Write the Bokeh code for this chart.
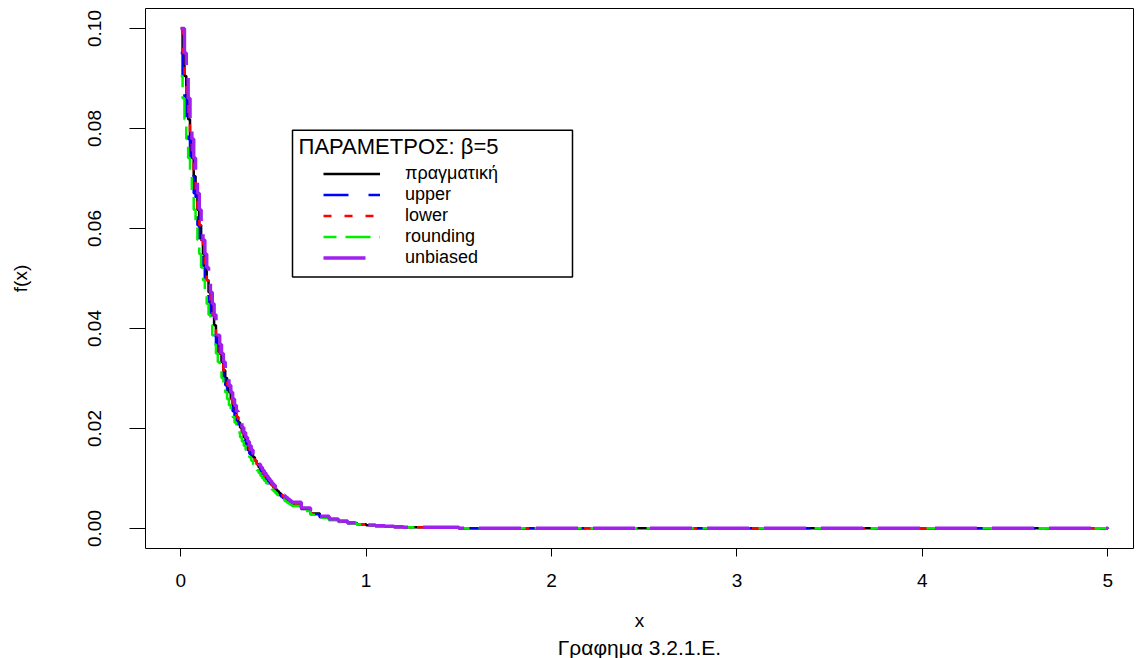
from bokeh.plotting import figure
from bokeh.models import (Range1d, FixedTicker, PrintfTickFormatter, Legend,
                          LegendItem, BoxAnnotation, Label, Title)
from bokeh.embed import file_html
from bokeh.resources import INLINE

# ---- data: discretised exponential pmf, beta = 5 ----
x_grid = [0.00, 0.01, 0.02, 0.03, 0.04, 0.05, 0.06, 0.07, 0.08, 0.09,
          0.10, 0.11, 0.12, 0.13, 0.14, 0.15, 0.16, 0.17, 0.18, 0.19,
          0.20, 0.21, 0.22, 0.23, 0.24, 0.25, 0.26, 0.27, 0.28, 0.29,
          0.30, 0.31, 0.32, 0.33, 0.34, 0.35, 0.36, 0.37, 0.38, 0.39,
          0.40, 0.41, 0.42, 0.43, 0.44, 0.45, 0.46, 0.47, 0.48, 0.49,
          0.50, 0.51, 0.52, 0.53, 0.54, 0.55, 0.56, 0.57, 0.58, 0.59,
          0.60,
          0.65, 0.70, 0.75, 0.80, 0.85, 0.90, 0.95, 1.00, 1.05, 1.10,
          1.15, 1.20, 1.50, 5.00]

f_true = [0.10000, 0.09512, 0.09048, 0.08607, 0.08187, 0.07788, 0.07408, 0.07047, 0.06703, 0.06376,
          0.06065, 0.05769, 0.05488, 0.05220, 0.04966, 0.04724, 0.04493, 0.04274, 0.04066, 0.03867,
          0.03679, 0.03499, 0.03329, 0.03166, 0.03012, 0.02865, 0.02725, 0.02592, 0.02466, 0.02346,
          0.02231, 0.02122, 0.02019, 0.01920, 0.01827, 0.01738, 0.01653, 0.01572, 0.01496, 0.01423,
          0.01353, 0.01287, 0.01225, 0.01165, 0.01108, 0.01054, 0.01003, 0.00954, 0.00907, 0.00863,
          0.00821, 0.00781, 0.00743, 0.00707, 0.00672, 0.00639, 0.00608, 0.00578, 0.00550, 0.00523,
          0.00498,
          0.00388, 0.00302, 0.00235, 0.00183, 0.00143, 0.00111, 0.00087, 0.00067, 0.00052, 0.00041,
          0.00032, 0.00025, 0.00006, 0.0]

f_upper = [0.09512, 0.09048, 0.08607, 0.08187, 0.07788, 0.07408, 0.07047, 0.06703, 0.06376, 0.06065,
           0.05769, 0.05488, 0.05220, 0.04966, 0.04724, 0.04493, 0.04274, 0.04066, 0.03867, 0.03679,
           0.03499, 0.03329, 0.03166, 0.03012, 0.02865, 0.02725, 0.02592, 0.02466, 0.02346, 0.02231,
           0.02122, 0.02019, 0.01920, 0.01827, 0.01738, 0.01653, 0.01572, 0.01496, 0.01423, 0.01353,
           0.01287, 0.01225, 0.01165, 0.01108, 0.01054, 0.01003, 0.00954, 0.00907, 0.00863, 0.00821,
           0.00781, 0.00743, 0.00707, 0.00672, 0.00639, 0.00608, 0.00578, 0.00550, 0.00523, 0.00498,
           0.00474,
           0.00369, 0.00287, 0.00224, 0.00174, 0.00136, 0.00106, 0.00083, 0.00064, 0.00049, 0.00039,
           0.00030, 0.00024, 0.00005, 0.0]

f_lower = [0.10000, 0.09512, 0.09048, 0.08607, 0.08187, 0.07788, 0.07408, 0.07047, 0.06703, 0.06376,
           0.06065, 0.05769, 0.05488, 0.05220, 0.04966, 0.04724, 0.04493, 0.04274, 0.04066, 0.03867,
           0.03679, 0.03499, 0.03329, 0.03166, 0.03012, 0.02865, 0.02725, 0.02592, 0.02466, 0.02346,
           0.02231, 0.02122, 0.02019, 0.01920, 0.01827, 0.01738, 0.01653, 0.01572, 0.01496, 0.01423,
           0.01353, 0.01287, 0.01225, 0.01165, 0.01108, 0.01054, 0.01003, 0.00954, 0.00907, 0.00863,
           0.00821, 0.00781, 0.00743, 0.00707, 0.00672, 0.00639, 0.00608, 0.00578, 0.00550, 0.00523,
           0.00498,
           0.00388, 0.00302, 0.00235, 0.00183, 0.00143, 0.00111, 0.00087, 0.00067, 0.00052, 0.00041,
           0.00032, 0.00025, 0.00006, 0.0]

f_rounding = [0.09048, 0.08607, 0.08187, 0.07788, 0.07408, 0.07047, 0.06703, 0.06376, 0.06065, 0.05769,
              0.05488, 0.05220, 0.04966, 0.04724, 0.04493, 0.04274, 0.04066, 0.03867, 0.03679, 0.03499,
              0.03329, 0.03166, 0.03012, 0.02865, 0.02725, 0.02592, 0.02466, 0.02346, 0.02231, 0.02122,
              0.02019, 0.01920, 0.01827, 0.01738, 0.01653, 0.01572, 0.01496, 0.01423, 0.01353, 0.01287,
              0.01225, 0.01165, 0.01108, 0.01054, 0.01003, 0.00954, 0.00907, 0.00863, 0.00821, 0.00781,
              0.00743, 0.00707, 0.00672, 0.00639, 0.00608, 0.00578, 0.00550, 0.00523, 0.00498, 0.00474,
              0.00450,
              0.00351, 0.00273, 0.00213, 0.00166, 0.00129, 0.00100, 0.00079, 0.00061, 0.00047, 0.00037,
              0.00029, 0.00023, 0.00005, 0.0]

f_unbiased = [0.10000, 0.10000, 0.09512, 0.09048, 0.08607, 0.08187, 0.07788, 0.07408, 0.07047, 0.06703,
              0.06376, 0.06065, 0.05769, 0.05488, 0.05220, 0.04966, 0.04724, 0.04493, 0.04274, 0.04066,
              0.03867, 0.03679, 0.03499, 0.03329, 0.03166, 0.03012, 0.02865, 0.02725, 0.02592, 0.02466,
              0.02346, 0.02231, 0.02122, 0.02019, 0.01920, 0.01827, 0.01738, 0.01653, 0.01572, 0.01496,
              0.01423, 0.01353, 0.01287, 0.01225, 0.01165, 0.01108, 0.01054, 0.01003, 0.00954, 0.00907,
              0.00863, 0.00821, 0.00781, 0.00743, 0.00707, 0.00672, 0.00639, 0.00608, 0.00578, 0.00550,
              0.00523,
              0.00408, 0.00317, 0.00247, 0.00192, 0.00150, 0.00117, 0.00091, 0.00070, 0.00055, 0.00043,
              0.00034, 0.00026, 0.00006, 0.0]

series_labels = ["πραγματική", "upper", "lower", "rounding", "unbiased"]
x_ticks = [0, 1, 2, 3, 4, 5]
y_ticks = [0.00, 0.02, 0.04, 0.06, 0.08, 0.10]

legend_title = "ΠΑΡΑΜΕΤΡΟΣ: β=5"
x_title = "x"
y_title = "f(x)"
caption = "Γραφημα 3.2.1.Ε."

# ---- styling ----
FONT = "Liberation Sans"
styles = [
    dict(color="black",   dash="solid",        width=2.5),
    dict(color="#0000FF", dash="25 20",        width=2.5),
    dict(color="#FF0000", dash="8 13",         width=2.5),
    dict(color="#00EE00", dash="13 9 25 9",    width=2.5),
    dict(color="#A020F0", dash="42 15",        width=3.5),
]

p = figure(width=1136, height=658, output_backend="svg", toolbar_location=None,
           x_range=Range1d(-0.19, 5.139), y_range=Range1d(-0.004, 0.104),
           min_border_left=145, min_border_right=3, min_border_top=8,
           min_border_bottom=109)
p.xgrid.visible = False
p.ygrid.visible = False
p.outline_line_color = "black"
p.outline_line_alpha = 1.0
p.outline_line_width = 1
p.background_fill_color = "white"
p.border_fill_color = "white"

renderers = []
for vals, st in zip([f_true, f_upper, f_lower, f_rounding, f_unbiased], styles):
    r = p.step(x_grid, vals, mode="after", line_color=st["color"],
               line_width=st["width"], line_dash=st["dash"])
    renderers.append(r)

# ---- axes ----
xa = p.xaxis[0]
xa.ticker = FixedTicker(ticks=x_ticks)
xa.bounds = (x_ticks[0], x_ticks[-1])
xa.major_tick_out = 8
xa.major_tick_in = 0
xa.minor_tick_out = 0
xa.minor_tick_in = 0
xa.major_label_standoff = 17
xa.axis_label = x_title
xa.axis_label_standoff = 20

ya = p.yaxis[0]
ya.ticker = FixedTicker(ticks=y_ticks)
ya.formatter = PrintfTickFormatter(format="%.2f")
ya.bounds = (y_ticks[0], y_ticks[-1])
ya.major_tick_out = 16
ya.major_tick_in = 0
ya.minor_tick_out = 0
ya.minor_tick_in = 0
ya.major_label_orientation = "vertical"
ya.major_label_standoff = 29
ya.axis_label = y_title
ya.axis_label_standoff = 54

for ax in (xa, ya):
    ax.axis_line_color = "black"
    ax.major_tick_line_color = "black"
    ax.major_label_text_color = "black"
    ax.major_label_text_font = FONT
    ax.major_label_text_font_size = "19px"
    ax.axis_label_text_font = FONT
    ax.axis_label_text_font_size = "19px"
    ax.axis_label_text_font_style = "normal"
    ax.axis_label_text_color = "black"

p.add_layout(Title(text=caption, align="center", text_font=FONT,
                   text_font_size="21px", text_font_style="normal",
                   text_color="black", standoff=0, offset=0), "below")

# ---- legend: framed box with a title line and five sample rows ----
box = BoxAnnotation(left=0.6029, right=2.1131, bottom=0.0503, top=0.07965,
                    fill_color="white", fill_alpha=1.0,
                    line_color="black", line_alpha=1.0, line_width=1.5)
p.add_layout(box)
p.add_layout(Label(x=0.6353, y=0.07645, text=legend_title, text_font=FONT,
                   text_font_size="22px", text_baseline="middle",
                   text_align="left", text_color="black"))

# one single-row legend per series, stacked with a 21 px pitch
row_offsets = [364, 343, 322, 301, 280]   # px above the frame bottom
for lab, r, yoff in zip(series_labels, renderers, row_offsets):
    lg = Legend(items=[LegendItem(label=lab, renderers=[r])],
                location=(178, yoff), glyph_width=57, glyph_height=19,
                label_height=19, spacing=0, label_standoff=25,
                padding=0, margin=0, border_line_alpha=0,
                background_fill_alpha=0, label_text_font=FONT,
                label_text_font_size="18px", label_text_color="black")
    p.add_layout(lg)

open("out.html", "w").write(file_html(p, INLINE))
